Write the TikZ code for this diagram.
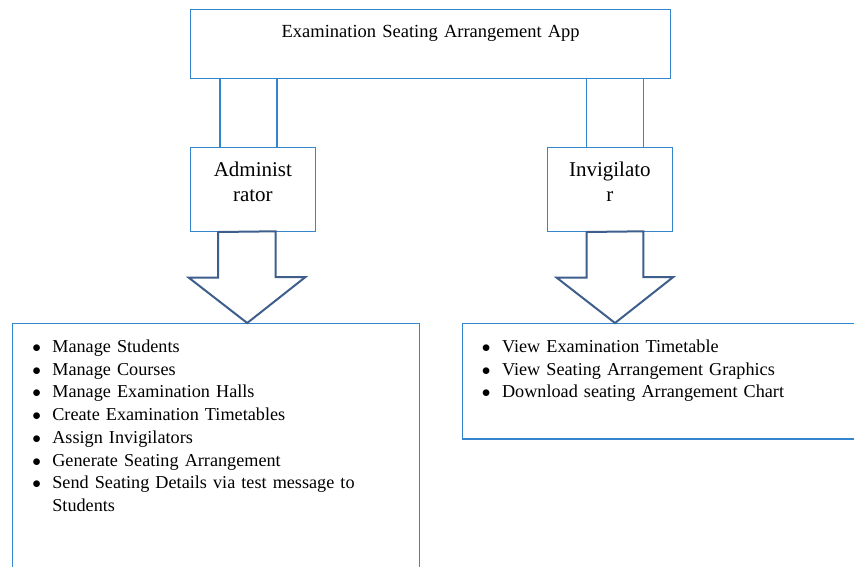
\documentclass[tikz,border=0pt]{standalone}
\usepackage{fontspec}
\setmainfont{Liberation Serif}
\usepackage{enumitem}
\usetikzlibrary{positioning, calc}

\definecolor{boxblue}{RGB}{52,132,206}
\definecolor{arrowblue}{RGB}{62,94,140}

\tikzset{
    box/.style={draw=boxblue, line width=1.3pt, inner sep=0pt, anchor=north west, align=center},
    link/.style={draw=boxblue, line width=1.3pt},
    fatarrow/.style={draw=arrowblue, line width=2pt, fill=white, line join=miter}
}

\newcommand{\biglist}{\setlist[itemize]{label=$\bullet$, leftmargin=39.7pt, labelsep=10.8pt, labelwidth=9.3pt, align=left, itemsep=0pt, parsep=0pt, topsep=0pt, before=\raggedright}}

\begin{document}
\begin{tikzpicture}[x=1pt, y=-1pt]
    \useasboundingbox (0,0) rectangle (854,567);
    \clip (0,0) rectangle (854,567);
    \biglist

    % Top box
    \node (app) [box, text width=480, text height=28, text depth=41, font=\fontsize{18.5}{22.7}\selectfont] at (190,9) {Examination Seating Arrangement App};

    % Role boxes
    \node (admin) [box, text width=125.5, text height=29.3, text depth=54.7, font=\fontsize{21}{24.7}\selectfont] at (189.5,146.7) {Administ\\rator};
    \node (invig) [box, text width=125, text height=29.3, text depth=54.7, font=\fontsize{21}{24.7}\selectfont] at (546.7,146.7) {Invigilato\\r};

    % Links from the top box
    \draw[link] ([xshift=30.5]admin.north west) -- ([xshift=30.5]admin.north west |- app.south);
    \draw[link] ([xshift=87.5]admin.north west) -- ([xshift=87.5]admin.north west |- app.south);
    \draw[link] ([xshift=40]invig.north west) -- ([xshift=40]invig.north west |- app.south);
    \draw[link] ([xshift=96.6]invig.north west) -- ([xshift=96.6]invig.north west |- app.south);

    % Task lists
    \node (adminlist) [box, align=left, text width=407, text height=6.2, text depth=322.5, font=\fontsize{18.2}{22.7}\selectfont] at (12,323) {%
        \begin{itemize}
            \item Manage Students
            \item Manage Courses
            \item Manage Examination Halls
            \item Create Examination Timetables
            \item Assign Invigilators
            \item Generate Seating Arrangement
            \item Send Seating Details via test message to Students
        \end{itemize}};
    \node (inviglist) [box, align=left, text width=480, text height=6.2, text depth=109.1, font=\fontsize{18.2}{22.7}\selectfont] at (461.7,323) {%
        \begin{itemize}
            \item View Examination Timetable
            \item View Seating Arrangement Graphics
            \item Download seating Arrangement Chart
        \end{itemize}};

    % Block arrows
    \draw[fatarrow] ([xshift=28.7]admin.south west) -- ++(0,45.7) -- ++(-29.4,0)
        -- ([xshift=57.7]admin.south west |- adminlist.north) -- ++(58.3,-46) -- ++(-30,0) -- ++(0,-45.7) -- cycle;
    \draw[fatarrow] ([xshift=40]invig.south west) -- ++(0,45.7) -- ++(-30,0)
        -- ([xshift=68.3]invig.south west |- inviglist.north) -- ++(58.3,-46) -- ++(-30,0) -- ++(0,-45.7) -- cycle;
\end{tikzpicture}
\end{document}
